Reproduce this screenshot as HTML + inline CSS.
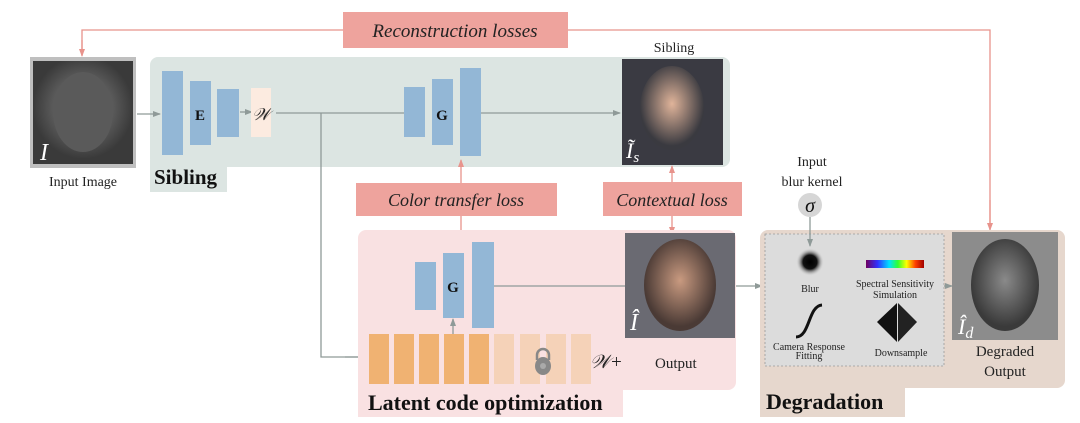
<!DOCTYPE html>
<html><head><meta charset="utf-8"><style>
html,body{margin:0;padding:0;background:#fff;}
svg{display:block;font-family:"Liberation Serif",serif;}
</style></head><body>
<svg width="1080" height="423" viewBox="0 0 1080 423" xmlns="http://www.w3.org/2000/svg">
<defs>
<marker id="ag" markerWidth="8" markerHeight="8" refX="7" refY="4" orient="auto" markerUnits="userSpaceOnUse"><path d="M0,1 L8,4 L0,7 z" fill="#8f9a98"/></marker>
<marker id="ar" markerWidth="8" markerHeight="8" refX="7" refY="4" orient="auto" markerUnits="userSpaceOnUse"><path d="M0,1 L8,4 L0,7 z" fill="#e8938c"/></marker>
<radialGradient id="blob"><stop offset="0" stop-color="#000"/><stop offset="0.5" stop-color="#111"/><stop offset="1" stop-color="#ddd" stop-opacity="0"/></radialGradient>
<linearGradient id="spec" x1="0" x2="1"><stop offset="0" stop-color="#700060"/><stop offset="0.2" stop-color="#3030ff"/><stop offset="0.4" stop-color="#00e0ff"/><stop offset="0.55" stop-color="#30ff30"/><stop offset="0.7" stop-color="#ffff00"/><stop offset="0.85" stop-color="#ff4000"/><stop offset="1" stop-color="#a00000"/></linearGradient>
<radialGradient id="faceg" cx="0.5" cy="0.45" r="0.5"><stop offset="0" stop-color="#8a8a8a"/><stop offset="1" stop-color="#3a3a3a"/></radialGradient>
<radialGradient id="facec" cx="0.5" cy="0.45" r="0.5"><stop offset="0" stop-color="#c99a80"/><stop offset="1" stop-color="#4a3a35"/></radialGradient>
<radialGradient id="faces" cx="0.5" cy="0.45" r="0.5"><stop offset="0" stop-color="#e0b49a"/><stop offset="1" stop-color="#3a3a40"/></radialGradient>
</defs>

<polyline points="82,55 82,30 990,30 990,228" fill="none" stroke="#e8938c" stroke-width="1.3"/>
<line x1="82" y1="40" x2="82" y2="56" stroke="#e8938c" stroke-width="1.3" marker-end="url(#ar)"/>
<line x1="990" y1="200" x2="990" y2="230" stroke="#e8938c" stroke-width="1.3" marker-end="url(#ar)"/>
<rect x="343" y="12" width="225" height="36" fill="#eea39d"/>
<text x="455" y="37" font-size="19" font-style="italic" text-anchor="middle" fill="#222">Reconstruction losses</text>

<rect x="30" y="57" width="106" height="111" fill="#bfbfbf"/>
<rect x="33" y="61" width="100" height="103" fill="url(#faceg)"/>
<ellipse cx="83" cy="112" rx="30" ry="40" fill="#5a5a5a"/>
<text x="40" y="160" font-size="24" font-style="italic" fill="#fff">I</text>
<text x="83" y="186" font-size="14" text-anchor="middle" fill="#222">Input Image</text>

<rect x="150" y="57" width="580" height="110" rx="8" fill="#dce5e2"/>
<rect x="150" y="160" width="77" height="32" fill="#dce5e2"/>
<text x="154" y="184" font-size="21" font-weight="bold" fill="#111">Sibling</text>
<line x1="137" y1="114" x2="160" y2="114" stroke="#8f9a98" stroke-width="1.3" marker-end="url(#ag)"/>
<rect x="162" y="71" width="21" height="84" fill="#93b7d6"/>
<rect x="190" y="81" width="21" height="64" fill="#93b7d6"/>
<text x="200" y="120" font-size="15" font-weight="bold" text-anchor="middle" fill="#111">E</text>
<rect x="217" y="89" width="22" height="48" fill="#93b7d6"/>
<line x1="240" y1="112" x2="252" y2="112" stroke="#8f9a98" stroke-width="1.3" marker-end="url(#ag)"/>
<rect x="251" y="88" width="20" height="49" fill="#fcebe0"/>
<text x="261" y="120" font-size="17" font-style="italic" text-anchor="middle" fill="#222">𝒲</text>
<line x1="276" y1="113" x2="404" y2="113" stroke="#8f9a98" stroke-width="1.3"/>
<rect x="404" y="87" width="21" height="50" fill="#93b7d6"/>
<rect x="432" y="79" width="21" height="66" fill="#93b7d6"/>
<text x="442" y="120" font-size="15" font-weight="bold" text-anchor="middle" fill="#111">G</text>
<rect x="460" y="68" width="21" height="88" fill="#93b7d6"/>
<line x1="481" y1="113" x2="620" y2="113" stroke="#8f9a98" stroke-width="1.3" marker-end="url(#ag)"/>
<rect x="622" y="59" width="101" height="106" fill="#3a3a42"/>
<ellipse cx="672" cy="108" rx="32" ry="42" fill="url(#faces)"/>
<text x="626" y="158" font-size="22" font-style="italic" fill="#fff">Ĩ<tspan font-size="15" dy="4">s</tspan></text>
<text x="674" y="52" font-size="14" text-anchor="middle" fill="#222">Sibling</text>

<polyline points="321,113 321,357 362,357" fill="none" stroke="#8f9a98" stroke-width="1.3"/>
<line x1="345" y1="357" x2="365" y2="357" stroke="#8f9a98" stroke-width="1.3" marker-end="url(#ag)"/>

<line x1="461" y1="183" x2="461" y2="160" stroke="#e8938c" stroke-width="1.3" marker-end="url(#ar)"/>
<line x1="461" y1="215" x2="461" y2="238" stroke="#e8938c" stroke-width="1.3" marker-end="url(#ar)"/>
<rect x="356" y="183" width="201" height="33" fill="#eea39d"/>
<text x="456" y="206" font-size="18" font-style="italic" text-anchor="middle" fill="#222">Color transfer loss</text>
<line x1="672" y1="182" x2="672" y2="166" stroke="#e8938c" stroke-width="1.3" marker-end="url(#ar)"/>
<line x1="672" y1="216" x2="672" y2="234" stroke="#e8938c" stroke-width="1.3" marker-end="url(#ar)"/>
<rect x="603" y="182" width="139" height="34" fill="#eea39d"/>
<text x="672" y="206" font-size="18" font-style="italic" text-anchor="middle" fill="#222">Contextual loss</text>

<rect x="358" y="230" width="378" height="160" rx="8" fill="#f9e1e2"/>
<rect x="358" y="380" width="265" height="37" fill="#f9e1e2"/>
<text x="368" y="410" font-size="22" font-weight="bold" fill="#111">Latent code optimization</text>
<rect x="415" y="262" width="21" height="48" fill="#93b7d6"/>
<rect x="443" y="253" width="21" height="65" fill="#93b7d6"/>
<text x="453" y="292" font-size="15" font-weight="bold" text-anchor="middle" fill="#111">G</text>
<rect x="472" y="242" width="22" height="86" fill="#93b7d6"/>
<line x1="494" y1="286" x2="625" y2="286" stroke="#8f9a98" stroke-width="1.3"/>
<line x1="453" y1="334" x2="453" y2="319" stroke="#8f9a98" stroke-width="1.3" marker-end="url(#ag)"/>
<g fill="#f0b272">
<rect x="369" y="334" width="20" height="50"/><rect x="394" y="334" width="20" height="50"/><rect x="419" y="334" width="20" height="50"/><rect x="444" y="334" width="20" height="50"/><rect x="469" y="334" width="20" height="50"/>
</g>
<g fill="#f5d2b8">
<rect x="494" y="334" width="20" height="50"/><rect x="520" y="334" width="20" height="50"/><rect x="546" y="334" width="20" height="50"/><rect x="571" y="334" width="20" height="50"/>
</g>
<path d="M537,360 v-5 a6,6 0 0 1 12,0 v5" fill="none" stroke="#888" stroke-width="2.5"/>
<ellipse cx="543" cy="366" rx="8" ry="9" fill="#888"/>
<circle cx="543" cy="366" r="3" fill="#aaa"/>
<text x="590" y="368" font-size="19" font-style="italic" fill="#222">𝒲+</text>
<text x="655" y="368" font-size="15" fill="#222">Output</text>
<rect x="625" y="233" width="110" height="105" fill="#6a6a72"/>
<ellipse cx="680" cy="285" rx="36" ry="46" fill="url(#facec)"/>
<text x="630" y="330" font-size="24" font-style="italic" fill="#fff">Î</text>

<line x1="736" y1="286" x2="762" y2="286" stroke="#8f9a98" stroke-width="1.3" marker-end="url(#ag)"/>

<text x="812" y="166" font-size="14" text-anchor="middle" fill="#222">Input</text>
<text x="812" y="186" font-size="14" text-anchor="middle" fill="#222">blur kernel</text>
<rect x="760" y="230" width="305" height="158" rx="8" fill="#e6d7cd"/>
<rect x="760" y="380" width="145" height="37" fill="#e6d7cd"/>
<text x="766" y="409" font-size="22" font-weight="bold" fill="#111">Degradation</text>
<rect x="765" y="234" width="179" height="132" fill="#dcdcdc" stroke="#999" stroke-dasharray="2,2" stroke-width="0.8"/>
<line x1="810" y1="217" x2="810" y2="246" stroke="#8f9a98" stroke-width="1.3" marker-end="url(#ag)"/>
<circle cx="810" cy="205" r="12" fill="#d6d6d6"/>
<text x="810" y="212" font-size="20" font-style="italic" text-anchor="middle" fill="#111">σ</text>
<circle cx="810" cy="262" r="14" fill="url(#blob)"/>
<text x="810" y="292" font-size="10" text-anchor="middle" fill="#222">Blur</text>
<rect x="866" y="260" width="58" height="8" fill="url(#spec)"/>
<text x="895" y="287" font-size="10" text-anchor="middle" fill="#222">Spectral Sensitivity</text>
<text x="895" y="298" font-size="10" text-anchor="middle" fill="#222">Simulation</text>
<path d="M796,337 C810,337 808,306 822,305" fill="none" stroke="#111" stroke-width="3"/>
<text x="809" y="350" font-size="10" text-anchor="middle" fill="#222">Camera Response</text>
<text x="809" y="359" font-size="10" text-anchor="middle" fill="#222">Fitting</text>
<path d="M897,303 L877,322 L897,342 Z" fill="#111"/>
<path d="M898,303 L917,322 L898,342 Z" fill="#222"/>
<text x="901" y="356" font-size="10" text-anchor="middle" fill="#222">Downsample</text>
<line x1="944" y1="286" x2="952" y2="286" stroke="#8f9a98" stroke-width="1.3" marker-end="url(#ag)"/>
<rect x="952" y="232" width="106" height="108" fill="#8c8c8c"/>
<ellipse cx="1005" cy="285" rx="34" ry="46" fill="url(#faceg)"/>
<text x="958" y="334" font-size="22" font-style="italic" fill="#fff">Î<tspan font-size="16" dy="4">d</tspan></text>
<text x="1005" y="356" font-size="15" text-anchor="middle" fill="#222">Degraded</text>
<text x="1005" y="376" font-size="15" text-anchor="middle" fill="#222">Output</text>
</svg>
</body></html>
